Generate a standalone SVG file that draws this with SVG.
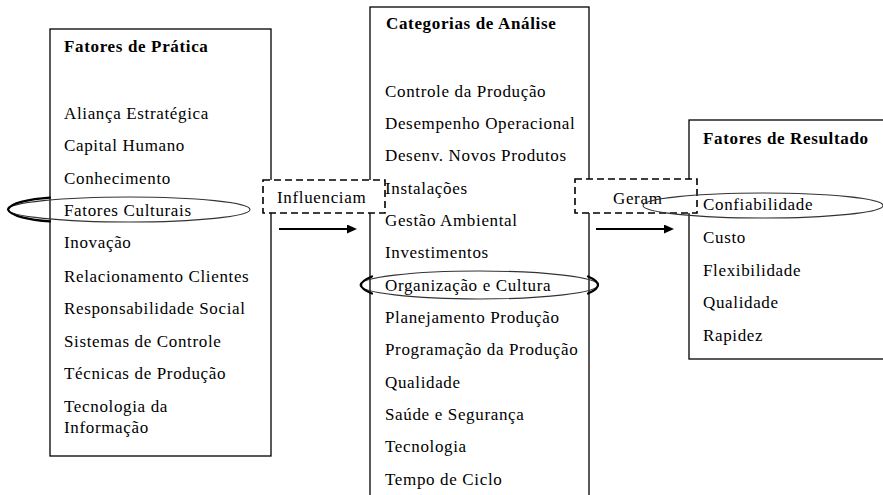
<svg xmlns="http://www.w3.org/2000/svg" width="883" height="495" viewBox="0 0 883 495">
  <style>
    text { font-family: "Liberation Serif", "Times New Roman", serif; font-size: 17px; letter-spacing: 0.65px; fill: #000; }
    .title { font-weight: bold; }
    .box { fill: none; stroke: #000; stroke-width: 1.3; }
    .dash { fill: #fff; stroke: #000; stroke-width: 1.6; stroke-dasharray: 7 4; }
    .arrow { stroke: #000; stroke-width: 2; fill: none; marker-end: url(#head); }
    .ring { fill: none; stroke: #333; stroke-width: 1.1; }
    .ringEdge { fill: none; stroke: #000; stroke-width: 2.2; stroke-linecap: round; }
  </style>
  <defs>
    <marker id="head" markerWidth="10" markerHeight="10" refX="0" refY="4.5" orient="auto" markerUnits="userSpaceOnUse">
      <polygon points="0,0 10,4.5 0,9" fill="#000"/>
    </marker>
  </defs>
  <rect width="883" height="495" fill="#fff"/>

  <!-- Box: practice factors -->
  <g id="fatores-pratica">
    <rect class="box" x="50" y="29" width="221" height="427"/>
    <text class="title" x="64" y="52">Fatores de Prática</text>
    <text x="64" y="119">Aliança Estratégica</text>
    <text x="64" y="151">Capital Humano</text>
    <text x="64" y="184">Conhecimento</text>
    <text x="64" y="216">Fatores Culturais</text>
    <text x="64" y="248">Inovação</text>
    <text x="64" y="282">Relacionamento Clientes</text>
    <text x="64" y="314">Responsabilidade Social</text>
    <text x="64" y="347">Sistemas de Controle</text>
    <text x="64" y="379">Técnicas de Produção</text>
    <text x="64" y="412">Tecnologia da</text>
    <text x="64" y="433">Informação</text>
  </g>

  <!-- Box: analysis categories -->
  <g id="categorias-analise">
    <rect class="box" x="370" y="7" width="219" height="500"/>
  </g>

  <!-- Box: result factors -->
  <g id="fatores-resultado">
    <rect class="box" x="689" y="120" width="196" height="239"/>
  </g>

  <!-- Connectors: dashed label boxes and arrows -->
  <g id="connectors">
    <g id="influenciam">
      <rect class="dash" x="263" y="180" width="122" height="33"/>
      <text x="277" y="203">Influenciam</text>
      <line class="arrow" x1="279" y1="229" x2="347" y2="229"/>
    </g>
    <g id="geram">
      <rect class="dash" x="575" y="179" width="122" height="34"/>
      <text x="613" y="204">Geram</text>
      <line class="arrow" x1="596" y1="229" x2="664" y2="229"/>
    </g>
  </g>

  <!-- Category and result labels (drawn over the dashed boxes) -->
  <g id="categorias-texto">
    <text class="title" x="386" y="29">Categorias de Análise</text>
    <text x="385" y="97">Controle da Produção</text>
    <text x="385" y="129">Desempenho Operacional</text>
    <text x="385" y="161">Desenv. Novos Produtos</text>
    <text x="385" y="194">Instalações</text>
    <text x="385" y="226">Gestão Ambiental</text>
    <text x="385" y="258">Investimentos</text>
    <text x="385" y="291">Organização e Cultura</text>
    <text x="385" y="323">Planejamento Produção</text>
    <text x="385" y="355">Programação da Produção</text>
    <text x="385" y="388">Qualidade</text>
    <text x="385" y="420">Saúde e Segurança</text>
    <text x="385" y="452">Tecnologia</text>
    <text x="385" y="485">Tempo de Ciclo</text>
  </g>
  <g id="resultado-texto">
    <text class="title" x="703" y="144">Fatores de Resultado</text>
    <text x="703" y="210">Confiabilidade</text>
    <text x="703" y="243">Custo</text>
    <text x="703" y="276">Flexibilidade</text>
    <text x="703" y="308">Qualidade</text>
    <text x="703" y="341">Rapidez</text>
  </g>

  <!-- Highlight ellipses -->
  <g id="destaques">
    <ellipse class="ring" cx="129" cy="209.5" rx="121" ry="12.5"/>
    <path class="ringEdge" d="M50,197.6 C30,199 10,203 8,209.5 C10,216 30,220 50,221.4"/>
    <ellipse class="ring" cx="479" cy="285" rx="119" ry="14"/>
    <path class="ringEdge" d="M372,276.5 C366,279 361,282 361,285 C361,288 366,291 372,293.5"/>
    <path class="ringEdge" d="M588,276.5 C594,279 598,282 598,285 C598,288 594,291 588,293.5"/>
    <ellipse class="ring" cx="763" cy="205.5" rx="120" ry="12.5"/>
  </g>
</svg>
